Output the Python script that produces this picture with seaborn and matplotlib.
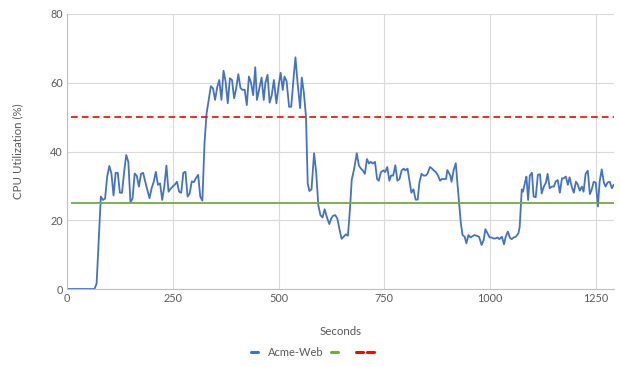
import numpy as np
import pandas as pd
import matplotlib
matplotlib.use("Agg")
import matplotlib.pyplot as plt
import seaborn as sns
from matplotlib.lines import Line2D
from matplotlib.legend_handler import HandlerBase

# CPU samples for the Acme-Web server: (seconds, utilization %)
seconds = [
    0, 5, 10, 15, 20, 25, 30, 35, 40, 45, 50, 55, 60, 65, 70,
    80, 85, 90, 95, 100, 105, 110, 115, 120, 125, 130, 135, 140, 145, 150,
    155, 160, 165, 170, 175, 180, 185, 190, 195, 200, 205, 210, 215, 220, 225,
    230, 235, 240, 245, 250, 255, 260, 265, 270, 275, 280, 285, 290, 295, 300,
    305, 310, 315, 320, 325, 330, 335, 340, 345, 350, 355, 360, 365, 370, 375,
    380, 385, 390, 395, 400, 405, 410, 415, 420, 425, 430, 435, 440, 445,
    449, 454, 460, 465, 469, 474, 479, 484, 489, 495, 500, 505, 510, 514, 519,
    525, 530, 536, 540, 545, 551, 555, 560, 565, 569, 573, 578, 584, 589, 594,
    599, 604, 609, 614, 620, 625, 629, 634, 639, 644, 649, 654, 659, 664, 669,
    673, 679, 685, 690, 695, 699, 704, 709, 714, 718, 723, 728, 733, 737, 742,
    748, 752, 757, 762, 766, 771, 776, 781, 786, 791, 796, 800, 805, 810, 814,
    819, 824, 829, 833, 838, 843, 848, 852, 858, 863, 867, 872, 877, 882, 886,
    891, 896, 899, 906, 909, 914, 919, 922, 927, 931, 935, 940, 944, 949, 954,
    959, 963, 968, 974, 980, 985, 989, 994, 999, 1003, 1008, 1013, 1018, 1022, 1028,
    1033, 1037, 1042, 1047, 1051, 1056, 1061, 1067, 1070, 1075, 1078, 1083, 1086, 1090, 1094,
    1099, 1103, 1108, 1113, 1118, 1122, 1127, 1132, 1136, 1141, 1146, 1151, 1155, 1160, 1165,
    1170, 1174, 1179, 1184, 1188, 1193, 1198, 1203, 1207, 1212, 1217, 1221, 1226, 1231, 1236,
    1240, 1245, 1250, 1255, 1259, 1264, 1269, 1273, 1278, 1283, 1288, 1292,
]
cpu = [
    0, 0, 0, 0, 0, 0, 0, 0, 0, 0, 0, 0, 0, 0, 1.6,
    26.9, 25.9, 26.3, 32.7, 35.8, 33.6, 27.2, 33.8, 33.8, 28.0, 28.0, 34.0, 39.0, 37.0, 25.1,
    26.4, 33.6, 32.9, 29.8, 33.5, 33.8, 31.2, 28.8, 26.4, 29.3, 31.2, 34.1, 30.3, 30.7, 25.9,
    29.8, 35.9, 28.3, 29.2, 29.8, 30.4, 31.2, 28.3, 28.0, 33.8, 34.1, 26.9, 27.8, 31.3, 31.1,
    32.3, 33.2, 26.9, 25.7, 42.4, 51.1, 55.0, 59.0, 58.4, 55.0, 58.7, 60.8, 55.0, 63.5, 60.3,
    54.0, 61.3, 60.8, 55.5, 58.4, 62.5, 58.5, 57.9, 58.0, 53.5, 61.8, 60.0, 56.4, 64.5,
    55.0, 58.0, 61.5, 55.0, 60.0, 62.3, 54.2, 56.4, 60.8, 54.0, 59.0, 62.9, 57.9, 61.8, 60.5,
    53.0, 53.0, 62.0, 67.4, 60.0, 52.6, 61.5, 57.0, 50.0, 30.7, 28.5, 29.0, 39.5, 34.0, 24.4,
    21.5, 20.8, 23.2, 21.0, 18.9, 20.6, 21.3, 21.5, 20.5, 17.4, 14.6, 15.2, 15.9, 15.5, 23.5,
    31.7, 35.1, 39.5, 35.9, 35.0, 34.5, 33.5, 37.8, 36.5, 37.0, 36.5, 37.0, 32.0, 31.5, 34.0,
    34.5, 34.0, 35.5, 31.5, 33.0, 33.0, 36.0, 31.5, 32.0, 34.5, 35.0, 34.5, 35.0, 31.0, 28.0,
    29.0, 26.0, 26.0, 31.0, 33.5, 33.0, 33.0, 33.5, 35.5, 35.0, 34.5, 34.0, 33.0, 31.5, 32.0,
    32.0, 32.0, 34.6, 33.0, 31.2, 34.6, 36.6, 32.0, 24.9, 19.1, 15.7, 15.2, 13.3, 15.7, 15.0,
    15.4, 15.7, 15.5, 15.2, 12.8, 14.3, 17.4, 16.2, 15.0, 15.0, 14.7, 14.7, 15.0, 14.5, 15.2,
    13.0, 15.2, 16.7, 14.9, 14.5, 15.0, 15.2, 16.2, 18.0, 29.0, 28.3, 31.2, 32.7, 25.9, 33.0,
    33.8, 26.9, 26.7, 33.2, 33.4, 27.8, 29.8, 30.9, 33.5, 29.3, 29.8, 29.8, 31.2, 31.7, 28.0,
    32.2, 32.2, 32.7, 30.3, 32.5, 29.8, 28.0, 31.2, 30.5, 28.6, 29.8, 28.3, 33.6, 34.4, 27.6,
    28.8, 31.2, 30.9, 24.0, 31.2, 34.8, 31.0, 29.8, 31.0, 31.2, 29.3, 30.3,
]

# Reference levels: target utilization and alert threshold
target_level = [25]
alert_level = [50]

series_name = "Acme-Web"
x_ticks = [0, 250, 500, 750, 1000, 1250]
y_ticks = [0, 20, 40, 60, 80]

BLUE = "#4472C4"
GREEN = "#70AD47"
RED = "#FF0000"
TEXT = "#595959"

sns.set_theme(style="white")
plt.rcParams["font.family"] = ["Lato", "DejaVu Sans"]

df = pd.DataFrame({"Seconds": seconds, "CPU": cpu})

fig = plt.figure(figsize=(6.2, 3.67), dpi=100)
ax = fig.add_axes([67 / 620, 78 / 367, 547 / 620, 275 / 367])

sns.lineplot(data=df, x="Seconds", y="CPU", ax=ax, color=BLUE,
             linewidth=1.3, label=series_name, legend=False)

x_start = seconds[2]
x_end = seconds[-1]
ax.hlines(target_level, x_start, x_end, colors=GREEN, linewidth=1.3)
ax.hlines(alert_level, x_start, x_end, colors=RED, linewidth=1.2,
          linestyles=(0, (4, 2.5)))

ax.set_xlim(0, 1293)
ax.set_ylim(0, 80)
ax.set_xticks(x_ticks)
ax.set_yticks(y_ticks)
ax.grid(True, color="#D9D9D9", linewidth=0.8)
ax.set_axisbelow(True)

for side in ["top", "right"]:
    ax.spines[side].set_visible(False)
for side in ["left", "bottom"]:
    ax.spines[side].set_color("#BFBFBF")
    ax.spines[side].set_linewidth(0.8)

ax.tick_params(axis="both", length=0, labelsize=7.8, labelcolor=TEXT, pad=3)
ax.set_xlabel("Seconds", fontsize=8.3, color=TEXT, labelpad=16)
ax.set_ylabel("CPU Utilization (%)", fontsize=8.3, color=TEXT, labelpad=19)


class TwoDashHandler(HandlerBase):
    """Legend key drawn as two short dashes."""

    def create_artists(self, legend, orig_handle, xdescent, ydescent,
                       width, height, fontsize, trans):
        y = height / 2 - ydescent
        gap = width * 0.6
        artists = []
        for k in range(2):
            x0 = -xdescent + k * (width + gap)
            ln = Line2D([x0, x0 + width], [y, y], color=orig_handle.get_color(),
                        linewidth=orig_handle.get_linewidth(), transform=trans)
            artists.append(ln)
        return artists


blue_key = Line2D([], [], color=BLUE, linewidth=2.2)
green_key = Line2D([], [], color=GREEN, linewidth=2.2)
red_key = Line2D([], [], color=RED, linewidth=2.2)
fig.legend([blue_key, green_key, red_key], [series_name, "", ""], loc="center",
           bbox_to_anchor=(312 / 620, 1 - 352 / 367), ncol=3, frameon=False,
           fontsize=8, labelcolor=TEXT, handlelength=0.6, handletextpad=0.9,
           columnspacing=0.75, handler_map={red_key: TwoDashHandler()})

fig.savefig("out.png", dpi=100)
